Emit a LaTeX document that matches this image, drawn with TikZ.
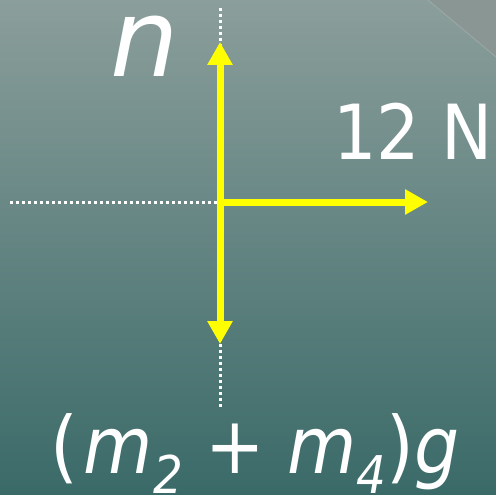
\documentclass[tikz,border=0pt]{standalone}
\usepackage{fontspec}
\setmainfont{DejaVu Sans Condensed}
\newfontfamily\widefont{DejaVu Sans}
\usetikzlibrary{arrows.meta}
\definecolor{bgtop}{RGB}{139,158,155}
\definecolor{bgbot}{RGB}{58,106,104}
\definecolor{corner}{RGB}{138,150,147}
\definecolor{arrowyellow}{RGB}{255,255,0}
\tikzset{
  force/.style={draw=arrowyellow, line width=7pt, -{Triangle[width=24pt,length=23pt]}, fill=arrowyellow},
  guide/.style={draw=white, line width=3pt, dash pattern=on 3pt off 3pt},
  lbl/.style={text=white, inner sep=0pt, anchor=base west},
}
\begin{document}
\begin{tikzpicture}[x=1pt,y=-1pt]
\useasboundingbox (0,0) rectangle (496,495);
\shade[top color=bgtop, bottom color=bgbot] (0,0) rectangle (496,495);
\fill[corner] (428,0) -- (496,0) -- (496,57) -- cycle;
\draw[white, opacity=0.15, line width=1pt] (428,0) -- (496,57);
% coordinates
\coordinate (c) at (220,202);
\coordinate (gtop) at (220,8);
\coordinate (gbot) at (220,408);
\coordinate (gleft) at (10,202);
\coordinate (up) at (220,42);
\coordinate (down) at (220,344);
\coordinate (right) at (428,202);
% guides
\draw[guide] (gtop) -- (gbot);
\draw[guide] (gleft) -- (c);
% forces
\draw[force] (c) -- (up);
\draw[force] (c) -- (down);
\draw[force] ([xshift=-3.5pt]c) -- (right);
% labels
\node[lbl, text height=60pt] (nlab) at (110,77) {\fontsize{108}{108}\selectfont\widefont\itshape n};
\node[lbl, text height=56pt] (flab) at (333,160) {\fontsize{76}{76}\selectfont 12 N};
\node[lbl, text height=60pt, text depth=18pt] (wlab) at (50,473) {\fontsize{79}{79}\selectfont (\kern6pt\textit{m}\raisebox{-0.26em}{\fontsize{52}{52}\selectfont\textit{2}} + \textit{m}\raisebox{-0.26em}{\fontsize{52}{52}\selectfont\textit{4}})\textit{g}};
\end{tikzpicture}
\end{document}
